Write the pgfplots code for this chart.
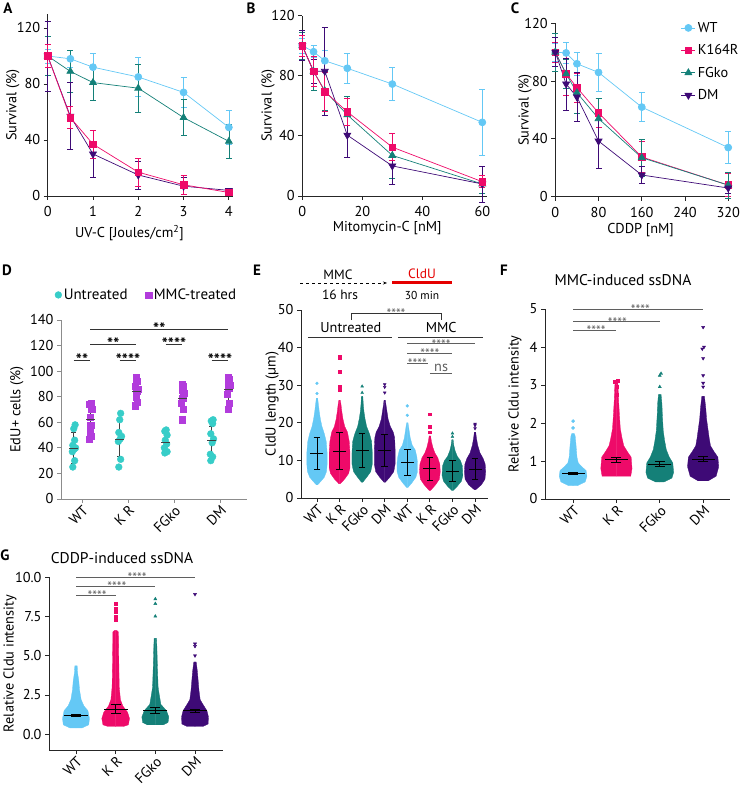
\documentclass[border=0pt]{standalone}
\usepackage{fontspec}
\setmainfont{PT Sans}
\usepackage{pgfplots}
\pgfplotsset{compat=1.18}
\usepackage{pgfplotstable}
\usetikzlibrary{arrows.meta}

\definecolor{cWT}{RGB}{100,200,245}
\definecolor{cKR}{RGB}{238,10,105}
\definecolor{cFG}{RGB}{20,128,120}
\definecolor{cDM}{RGB}{62,10,118}
\definecolor{cUn}{RGB}{55,205,200}
\definecolor{cMMC}{RGB}{178,60,220}
\definecolor{cSig}{RGB}{95,95,95}

\newcommand\tfont{\fontsize{14.3}{16}\selectfont}
\newcommand\sfont{\fontsize{13.5}{14}\selectfont}

\pgfplotsset{
  gp/.style={scale only axis, anchor=south west, clip=false,
    axis lines=left, axis line style={-, line width=0.8pt, black!85},
    every tick/.style={black!85, line width=0.8pt}, major tick length=4pt,
    tick align=outside, /pgf/number format/assume math mode=true,
    tick label style={font=\tfont}, label style={font=\tfont},
    xlabel style={anchor=center}, ylabel style={anchor=center}},
  rot/.style={xticklabel style={rotate=45, anchor=north east, inner sep=1pt}},
  surv/.style={line width=0.7pt, error bars/.cd, y dir=both, y explicit,
    error bar style={line width=0.7pt, solid}, error mark options={rotate=90, mark size=3pt, line width=0.7pt}},
}
\newcommand\swarm[3]{%
  \addplot[fill=#3, draw=#3, line width=0.3pt] table[x expr={#1+\thisrow{w}}, y=y] {#2} -- cycle;
  \addplot[fill=#3, draw=#3, line width=0.3pt] table[x expr={#1-\thisrow{w}}, y=y] {#2} -- cycle;
}

% ---- swarm envelopes (y, half width) ----
\pgfplotstableread{
y w
3.5 0
3.5 0.03
4.5 0.18
5.5 0.32
7 0.42
9 0.45
12 0.45
15 0.41
17 0.33
19 0.22
21 0.15
23 0.10
25 0.06
26.5 0.03
26.5 0
}\tEa
\pgfplotstableread{
y w
3.8 0
3.8 0.03
5 0.22
6.5 0.40
8 0.46
12 0.46
15 0.43
17.5 0.35
19 0.23
21 0.15
23 0.10
25 0.06
26 0.03
26 0
}\tEb
\pgfplotstableread{
y w
4.2 0
4.2 0.03
5.5 0.20
7 0.38
9 0.45
12 0.45
15 0.42
17 0.33
19 0.20
21 0.13
23 0.08
25 0.05
27 0.03
27 0
}\tEc
\pgfplotstableread{
y w
4.2 0
4.2 0.03
5.5 0.22
7 0.40
9 0.46
13 0.46
16 0.44
17.5 0.38
19 0.25
21 0.15
23 0.10
25 0.05
26 0.03
26 0
}\tEd
\pgfplotstableread{
y w
2.8 0
2.8 0.03
4 0.20
5.5 0.38
7 0.45
9.5 0.45
11 0.42
12.8 0.35
14 0.22
16 0.13
18 0.08
20 0.03
20 0
}\tEe
\pgfplotstableread{
y w
2 0
2 0.03
3.5 0.25
5 0.42
7 0.46
9 0.44
10.7 0.35
12 0.22
13.5 0.13
15 0.07
16.5 0.03
16.5 0
}\tEf
\pgfplotstableread{
y w
2 0
2 0.03
3 0.20
4.5 0.40
6 0.46
8.5 0.44
10 0.35
11 0.22
12.5 0.12
14 0.06
15.5 0.03
15.5 0
}\tEg
\pgfplotstableread{
y w
2.2 0
2.2 0.03
3.5 0.28
5 0.44
7 0.47
9 0.45
10.5 0.36
12 0.22
14 0.12
16 0.06
17.5 0.03
17.5 0
}\tEh
% F
\pgfplotstableread{
y w
0.35 0
0.35 0.10
0.45 0.28
0.6 0.32
0.75 0.30
0.85 0.20
0.95 0.12
1.1 0.09
1.4 0.07
1.65 0.05
1.72 0.03
1.72 0
}\tFa
\pgfplotstableread{
y w
0.6 0
0.6 0.33
0.8 0.36
1.1 0.34
1.25 0.25
1.4 0.17
1.6 0.13
1.85 0.09
2.2 0.07
2.6 0.05
2.9 0.04
3.1 0.03
3.1 0
}\tFb
\pgfplotstableread{
y w
0.45 0
0.45 0.10
0.55 0.28
0.7 0.32
0.95 0.30
1.1 0.22
1.3 0.15
1.55 0.11
1.8 0.08
2.2 0.06
2.5 0.05
2.75 0.03
2.75 0
}\tFc
\pgfplotstableread{
y w
0.48 0
0.48 0.12
0.6 0.30
0.85 0.36
1.1 0.34
1.25 0.25
1.4 0.17
1.6 0.14
1.85 0.11
2.1 0.08
2.4 0.06
2.7 0.03
2.7 0
}\tFd
% G
\pgfplotstableread{
y w
0.4 0
0.4 0.15
0.6 0.32
1.0 0.34
1.5 0.30
1.8 0.20
2.2 0.13
2.8 0.09
3.4 0.07
3.9 0.04
4.35 0.03
4.35 0
}\tGa
\pgfplotstableread{
y w
0.5 0
0.5 0.20
0.6 0.32
1.0 0.35
1.4 0.30
1.8 0.18
2.2 0.12
3.0 0.09
4.5 0.08
6.5 0.07
6.6 0.03
6.6 0
}\tGb
\pgfplotstableread{
y w
0.6 0
0.6 0.20
0.75 0.32
1.1 0.34
1.5 0.28
1.9 0.14
2.5 0.10
3.0 0.07
4.5 0.05
5.5 0.04
6.1 0.03
6.1 0
}\tGc
\pgfplotstableread{
y w
0.5 0
0.5 0.20
0.65 0.33
1.1 0.34
1.5 0.30
1.9 0.20
2.2 0.13
2.8 0.10
3.4 0.08
4.0 0.06
4.6 0.03
4.6 0
}\tGd

\begin{document}
\begin{tikzpicture}
\useasboundingbox (0,0) rectangle (745pt,791pt);

% ================= A =================
\begin{axis}[gp, at={(47.7pt,595pt)}, width=185.7pt, height=182pt,
  xmin=0, xmax=4.1, ymin=0, ymax=130, xtick={0,1,2,3,4}, ytick={0,40,80,120},
  xticklabel style={yshift=-3pt},
  xlabel={UV-C [Joules/cm\textsuperscript{2}]}, ylabel={Survival (\%)},
  xlabel style={at={(axis description cs:0.44,-0.203)}},
  ylabel style={at={(axis description cs:-0.187,0.5)}}]
\addplot[cWT, mark=*, mark size=3.5pt, surv] coordinates {(0,100) +- (0,5) (0.5,98) +- (0,6) (1,92) +- (0,10) (2,85) +- (0,14) (3,74) +- (0,11) (4,49) +- (0,12)};
\addplot[cFG, mark=triangle*, mark size=4pt, surv] coordinates {(0,100) +- (0,14) (0.5,89) +- (0,15) (1,81) +- (0,12.5) (2,77) +- (0,17) (3,56) +- (0,13) (4,39) +- (0,12)};
\addplot[cDM, mark=triangle*, mark size=4pt, mark options={rotate=180}, surv] coordinates {(0,100) +- (0,25) (0.5,57) +- (0,24) (1,30) +- (0,17) (2,15) +- (0,10) (3,7) +- (0,6) (4,4) +- (0,1.5)};
\addplot[cKR, mark=square*, mark size=3.3pt, surv] coordinates {(0,100) +- (0,8) (0.5,56) +- (0,8) (1,37) +- (0,10) (2,17) +- (0,10) (3,8) +- (0,7) (4,2.5) +- (0,2)};
\end{axis}

% ================= B =================
\begin{axis}[gp, at={(302.3pt,595pt)}, width=184.5pt, height=180.3pt,
  xmin=0, xmax=61.5, ymin=0, ymax=120, xtick={0,20,40,60}, ytick={0,40,80,120},
  xticklabel style={yshift=-3pt},
  xlabel={Mitomycin-C [nM]}, ylabel={Survival (\%)},
  xlabel style={at={(axis description cs:0.46,-0.177)}},
  ylabel style={at={(axis description cs:-0.186,0.5)}}]
\addplot[cWT, mark=*, mark size=3.5pt, surv] coordinates {(0,100) +- (0,5) (3.75,96) +- (0,4) (7.5,90) +- (0,7) (15,85) +- (0,10) (30,74.5) +- (0,11) (60,49) +- (0,22)};
\addplot[cFG, mark=triangle*, mark size=4pt, surv] coordinates {(0,100) +- (0,9) (3.75,83) +- (0,13) (7.5,70) +- (0,13) (15,54) +- (0,12) (30,27) +- (0,15) (60,8) +- (0,6)};
\addplot[cDM, mark=triangle*, mark size=4pt, mark options={rotate=180}, surv] coordinates {(0,100) +- (0,10) (3.75,83) +- (0,8) (7.5,83) +- (0,29) (15,40.5) +- (0,15) (30,20) +- (0,12) (60,8) +- (0,12)};
\addplot[cKR, mark=square*, mark size=3.3pt, surv] coordinates {(0,100) +- (0,7) (3.75,83) +- (0,10) (7.5,69.5) +- (0,13) (15,56) +- (0,9) (30,32.5) +- (0,9) (60,9.5) +- (0,4)};
\end{axis}

% ================= C =================
\begin{axis}[gp, at={(555.3pt,594.3pt)}, width=174pt, height=173.4pt,
  xmin=0, xmax=322, ymin=0, ymax=120, xtick={0,80,160,240,320}, ytick={0,40,80,120},
  xticklabel style={yshift=-3pt},
  xlabel={CDDP [nM]}, ylabel={Survival (\%)},
  xlabel style={at={(axis description cs:0.49,-0.192)}},
  ylabel style={at={(axis description cs:-0.174,0.5)}},
  legend style={at={(0.715,1.025)}, anchor=north west, draw=none, fill=none, font=\tfont, row sep=6.8pt,
    inner sep=1pt, nodes={inner sep=2pt}},
  legend image code/.code={\draw[mark repeat=2, mark phase=2, #1] plot coordinates {(0cm,0cm) (0.25cm,0cm) (0.5cm,0cm)};},
  legend cell align=left]
\addplot[cWT, mark=*, mark size=3.5pt, surv] coordinates {(0,100) +- (0,6) (20,99.5) +- (0,7) (40,92) +- (0,8) (80,86) +- (0,13) (160,62) +- (0,10) (320,34) +- (0,11)};
\addlegendentry{WT}
\addplot[cKR, mark=square*, mark size=3.3pt, surv] coordinates {(0,100) +- (0,7) (20,85) +- (0,15) (40,75.5) +- (0,10) (80,58) +- (0,10) (160,27.5) +- (0,11) (320,8) +- (0,8)};
\addlegendentry{K164R}
\addplot[cFG, mark=triangle*, mark size=4pt, surv] coordinates {(0,100) +- (0,13) (20,85) +- (0,10) (40,72) +- (0,14) (80,54) +- (0,14) (160,27) +- (0,13) (320,8) +- (0,9)};
\addlegendentry{FGko}
\addplot[cDM, mark=triangle*, mark size=4pt, mark options={rotate=180}, surv] coordinates {(0,100) +- (0,10) (20,78) +- (0,18) (40,69) +- (0,17) (80,38.5) +- (0,19) (160,15) +- (0,6) (320,6) +- (0,4)};
\addlegendentry{DM}
\end{axis}

% ================= D =================
\begin{axis}[gp, rot, at={(61pt,292pt)}, width=186pt, height=179pt,
  axis line style={-, line width=0.8pt, black!45}, every tick/.style={black!45, line width=0.8pt},
  xmin=0.543, xmax=4.587, ymin=0, ymax=140, xtick={1,2,3,4}, xticklabels={WT,K R,FGko,DM},
  ytick={0,20,...,140}, ylabel={EdU+ cells (\%)},
  ylabel style={at={(axis description cs:-0.237,0.5)}},
  legend style={at={(0.46,1.14)}, anchor=center, draw=none, fill=none, font=\fontsize{15}{17}\selectfont, legend columns=2,
    /tikz/every even column/.append style={column sep=16pt}}]
\addplot[only marks, mark=*, mark size=3.4pt, cUn] coordinates {(0.80,25)(0.84,30)(0.79,37)(0.83,39)(0.86,40)(0.80,42)(0.84,46)(0.82,55)(0.85,58)
 (1.80,25)(1.84,31)(1.79,45)(1.83,47)(1.86,49)(1.80,52)(1.82,62)(1.84,67)
 (2.80,36)(2.85,37)(2.79,40)(2.84,43)(2.81,46)(2.85,50)(2.80,53)(2.83,54)
 (3.80,30)(3.84,33)(3.79,35)(3.83,44)(3.86,47)(3.80,51)(3.84,59)(3.81,61)(3.85,62)};
\addlegendentry{Untreated}
\addplot[only marks, mark=square*, mark size=3.1pt, cMMC] coordinates {(1.16,47)(1.20,49)(1.17,52)(1.19,58)(1.18,64)(1.21,70)(1.16,74)(1.20,75)
 (2.16,73)(2.20,76)(2.17,80)(2.19,84)(2.21,86)(2.16,88)(2.19,92)(2.17,95)
 (3.17,62)(3.20,70)(3.16,75)(3.19,79)(3.21,83)(3.17,85)(3.20,88)(3.18,90)
 (4.17,70)(4.20,75)(4.16,82)(4.19,87)(4.21,89)(4.17,91)(4.20,94)(4.18,95)};
\addlegendentry{MMC-treated}
\addplot[only marks, mark=-, mark size=4.5pt, black!75, mark options={line width=0.7pt}, forget plot,
  error bars/.cd, y dir=both, y explicit, error bar style={line width=0.7pt, black!75},
  error mark options={rotate=90, mark size=2.5pt, line width=0.7pt, black!75}]
  coordinates {(0.82,40) +- (0,12.3) (1.82,47) +- (0,14) (2.82,44) +- (0,8) (3.82,46) +- (0,11)
  (1.18,62) +- (0,12.5) (2.18,84.5) +- (0,8.5) (3.18,79) +- (0,10) (4.18,86) +- (0,9)};
\begin{scope}[line width=0.7pt, black!80]
\draw (axis cs:0.82,108.7) -- (axis cs:1.18,108.7);
\draw (axis cs:1.18,121) -- (axis cs:2.18,121);
\draw (axis cs:1.82,108.7) -- (axis cs:2.18,108.7);
\draw (axis cs:2.82,121) -- (axis cs:3.18,121);
\draw (axis cs:1.18,132.7) -- (axis cs:4.18,132.7);
\draw (axis cs:3.82,108.7) -- (axis cs:4.18,108.7);
\end{scope}
\begin{scope}[every node/.style={font=\bfseries\fontsize{16}{16}\selectfont, anchor=base, inner sep=0pt, yshift=-5.3pt}]
\node at (axis cs:1.0,108.7) {**};
\node at (axis cs:1.68,121) {**};
\node at (axis cs:2.0,108.7) {****};
\node at (axis cs:3.0,121) {****};
\node at (axis cs:2.68,132.7) {**};
\node at (axis cs:4.0,108.7) {****};
\end{scope}
\end{axis}

% ================= E =================
\begin{axis}[gp, rot, at={(301pt,293pt)}, width=187pt, height=188pt,
  xmin=0.292, xmax=8.575, ymin=0, ymax=50, xtick={1,...,8},
  xticklabels={WT,K R,FGko,DM,WT,K R,FGko,DM}, ytick={0,10,...,50},
  ylabel={CldU length (µm)},
  ylabel style={at={(axis description cs:-0.155,0.5)}}]
\swarm{1}{\tEa}{cWT}
\swarm{2}{\tEb}{cKR}
\swarm{3}{\tEc}{cFG}
\swarm{4}{\tEd}{cDM}
\swarm{5}{\tEe}{cWT}
\swarm{6}{\tEf}{cKR}
\swarm{7}{\tEg}{cFG}
\swarm{8}{\tEh}{cDM}
\addplot[only marks, mark=*, mark size=1.4pt, cWT] coordinates {(1,27.8)(1,30.5)(5,22)(5,24.5)};
\addplot[only marks, mark=square*, mark size=1.4pt, cKR] coordinates {(2,28.8)(2,29.5)(2,33.5)(2,37.2)(2,37.7)(6,17.5)(6,19)(6,22.3)};
\addplot[only marks, mark=triangle*, mark size=1.6pt, cFG] coordinates {(3,28)(3,29.7)(7,16.3)(7,17.2)};
\addplot[only marks, mark=triangle*, mark size=1.6pt, cDM, mark options={rotate=180}] coordinates {(4,28)(4,29.5)(4,30.2)(8,18.5)(8,19.3)(8,19.7)};
\addplot[only marks, mark=-, mark size=6.5pt, black, mark options={line width=0.8pt},
  error bars/.cd, y dir=both, y explicit, error bar style={line width=0.8pt, black},
  error mark options={rotate=90, mark size=3.3pt, line width=0.8pt, black}]
  coordinates {(1,11.8) +- (0,4.3) (2,12.5) +- (0,5) (3,12.6) +- (0,4.5) (4,12.7) +- (0,4.3)
  (5,9.4) +- (0,3.5) (6,7.8) +- (0,3) (7,7.2) +- (0,2.7) (8,7.7) +- (0,2.8)};
\begin{scope}[line width=0.7pt, black!80]
\draw (axis cs:2.5,47.3) -- (axis cs:2.5,49.2) -- (axis cs:6.5,49.2) -- (axis cs:6.5,47.3);
\draw (axis cs:0.6,42.8) -- (axis cs:4.32,42.8);
\draw (axis cs:4.58,42.8) -- (axis cs:8.35,42.8);
\end{scope}
\begin{scope}[line width=0.7pt, cSig]
\draw (axis cs:5,41) -- (axis cs:8,41);
\draw (axis cs:5,38.6) -- (axis cs:7,38.6);
\draw (axis cs:5,35.9) -- (axis cs:5.9,35.9);
\draw (axis cs:6,33.2) -- (axis cs:7,33.2);
\end{scope}
\node[font=\tfont] at (axis cs:2.5,45.4) {Untreated};
\node[font=\tfont] at (axis cs:6.5,45.4) {MMC};
\begin{scope}[every node/.style={font=\sfont, text=cSig, anchor=base, inner sep=0pt, yshift=-5.9pt}]
\node at (axis cs:4.5,49.2) {****};
\node at (axis cs:6.5,41) {****};
\node at (axis cs:6.0,38.6) {****};
\node at (axis cs:5.45,35.9) {****};
\node[yshift=7.4pt, font=\tfont] at (axis cs:6.5,33.2) {ns};
\end{scope}
\end{axis}

% ================= F =================
\begin{axis}[gp, rot, at={(545pt,292pt)}, width=185pt, height=190pt,
  xmin=0.353, xmax=4.62, ymin=0, ymax=5, xtick={1,2,3,4},
  xticklabels={WT,K R,FGko,DM}, ytick={0,1,...,5},
  ylabel={Relative Cldu intensity},
  ylabel style={at={(axis description cs:-0.162,0.5)}}]
\swarm{1}{\tFa}{cWT}
\swarm{2}{\tFb}{cKR}
\swarm{3}{\tFc}{cFG}
\swarm{4}{\tFd}{cDM}
\addplot[only marks, mark=*, mark size=1.6pt, cWT] coordinates {(1,1.87)(1,2.05)};
\addplot[only marks, mark=square*, mark size=1.5pt, cKR] coordinates {(2,2.75)(2,2.95)(1.97,3.08)(2.03,3.1)};
\addplot[only marks, mark=triangle*, mark size=1.8pt, cFG] coordinates {(3,2.95)(3,3.25)(3.03,3.3)};
\addplot[only marks, mark=triangle*, mark size=1.8pt, cDM, mark options={rotate=180}] coordinates {(4,2.95)(4,3.05)(4,3.25)(4,3.7)(3.98,3.95)(4.02,4.0)(4,4.52)};
\addplot[only marks, mark=-, mark size=11.5pt, black, mark options={line width=0.8pt},
  error bars/.cd, y dir=both, y explicit, error bar style={line width=0.8pt, black},
  error mark options={rotate=90, mark size=5pt, line width=0.8pt, black}]
  coordinates {(1,0.68) +- (0,0.02) (2,1.03) +- (0,0.07) (3,0.92) +- (0,0.06) (4,1.05) +- (0,0.06)};
\begin{scope}[line width=0.7pt, cSig]
\draw (axis cs:1,5) -- (axis cs:4,5);
\draw (axis cs:1,4.68) -- (axis cs:3,4.68);
\draw (axis cs:1,4.45) -- (axis cs:2,4.45);
\end{scope}
\begin{scope}[every node/.style={font=\sfont, text=cSig, anchor=base, inner sep=0pt, yshift=-5.9pt}]
\node at (axis cs:2.55,5) {****};
\node at (axis cs:2.02,4.68) {****};
\node at (axis cs:1.53,4.45) {****};
\end{scope}
\end{axis}

% ================= G =================
\begin{axis}[gp, rot, at={(49pt,41pt)}, width=174pt, height=173pt,
  xmin=0.319, xmax=4.706, ymin=-1, ymax=10, xtick={1,2,3,4},
  xticklabels={WT,K R,FGko,DM}, ytick={0,2.5,5,7.5,10},
  yticklabel style={/pgf/number format/.cd, fixed, fixed zerofill, precision=1},
  ylabel={Relative Cldu intensity},
  ylabel style={at={(axis description cs:-0.224,0.5)}}]
\swarm{1}{\tGa}{cWT}
\swarm{2}{\tGb}{cKR}
\swarm{3}{\tGc}{cFG}
\swarm{4}{\tGd}{cDM}
\addplot[only marks, mark=square*, mark size=1.6pt, cKR] coordinates {(2,7.3)(2,7.38)(2,7.5)(2,7.8)(2,8.0)(2,8.3)};
\addplot[only marks, mark=triangle*, mark size=1.8pt, cFG] coordinates {(3,7.5)(3,8.3)(3,8.6)};
\addplot[only marks, mark=triangle*, mark size=1.8pt, cDM, mark options={rotate=180}] coordinates {(4,5.0)(4,5.6)(4,5.75)(4,8.9)};
\addplot[only marks, mark=-, mark size=12pt, black, mark options={line width=0.8pt},
  error bars/.cd, y dir=both, y explicit, error bar style={line width=0.8pt, black},
  error mark options={rotate=90, mark size=5pt, line width=0.8pt, black}]
  coordinates {(1,1.2) +- (0,0.07) (2,1.6) +- (0,0.3) (3,1.5) +- (0,0.2) (4,1.5) +- (0,0.1)};
\begin{scope}[line width=0.7pt, cSig]
\draw (axis cs:1,10) -- (axis cs:4,10);
\draw (axis cs:1,9.43) -- (axis cs:3,9.43);
\draw (axis cs:1,8.85) -- (axis cs:2,8.85);
\end{scope}
\begin{scope}[every node/.style={font=\sfont, text=cSig, anchor=base, inner sep=0pt, yshift=-5.9pt}]
\node at (axis cs:2.54,10) {****};
\node at (axis cs:2.03,9.43) {****};
\node at (axis cs:1.53,8.85) {****};
\end{scope}
\end{axis}

% ---- panel letters, titles, schematic ----
\begin{scope}[every node/.style={font=\bfseries\fontsize{15}{15}\selectfont, inner sep=0pt}]
\node at (8pt,783pt) {A};
\node at (251pt,783pt) {B};
\node at (515pt,783pt) {C};
\node at (7pt,521pt) {D};
\node at (257pt,521pt) {E};
\node at (504pt,521pt) {F};
\node at (5pt,236pt) {G};
\end{scope}
\node[font=\fontsize{15.5}{17}\selectfont] at (623pt,511pt) {MMC-induced ssDNA};
\node[font=\fontsize{15.5}{17}\selectfont] at (122pt,233pt) {CDDP-induced ssDNA};
\node[font=\fontsize{13.5}{15}\selectfont] at (338pt,516pt) {MMC};
\node[font=\fontsize{13.5}{15}\selectfont] at (340pt,496pt) {16 hrs};
\draw[dashed, line width=0.5pt, -{Stealth[length=4pt]}] (300pt,508pt) -- (387pt,508pt);
\draw[line width=3pt, red!90!black] (392pt,508pt) -- (452pt,508pt);
\node[font=\fontsize{13.5}{15}\selectfont, text=red!90!black] at (422pt,517pt) {CldU};
\node[font=\fontsize{11.5}{13}\selectfont] at (422pt,496pt) {30 min};
\end{tikzpicture}
\end{document}
